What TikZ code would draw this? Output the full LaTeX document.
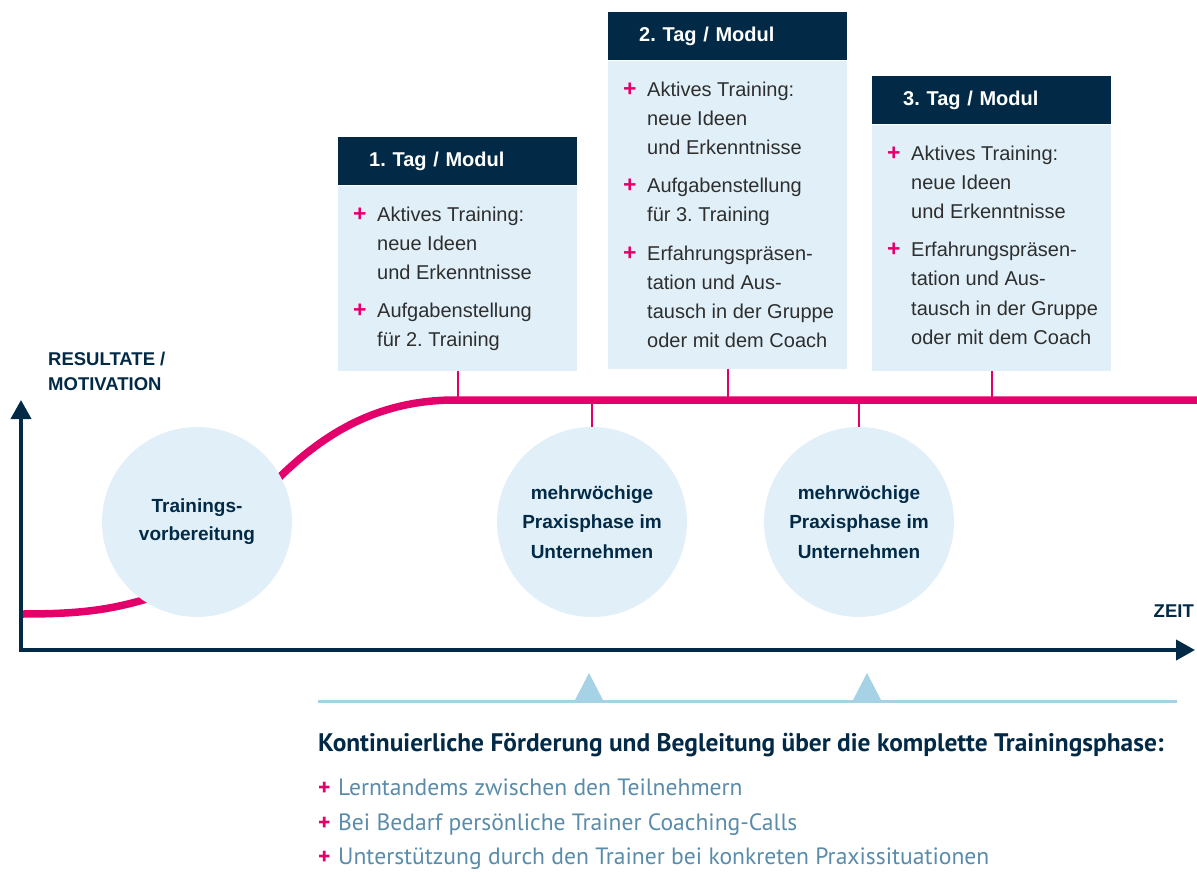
\documentclass[tikz,border=0pt]{standalone}
\usepackage{fontspec}
\setmainfont{Liberation Sans}
\newfontfamily\ptsans{PT Sans}
\usetikzlibrary{arrows.meta, positioning}

\definecolor{navy}{HTML}{022A46}
\definecolor{accent}{HTML}{E4006B}
\definecolor{paleblue}{HTML}{E1F0F8}
\definecolor{skyline}{HTML}{A6D2E5}
\definecolor{steel}{HTML}{5A8CAA}
\definecolor{bodytext}{HTML}{2E2E2E}

\newcommand{\plusitem}{\makebox[24pt][l]{\textcolor{accent}{\fontsize{23}{23}\selectfont\textbf{+}}}}
\newcommand{\indentline}{\hspace*{24pt}}
\newcommand{\supportitem}{\makebox[20pt][l]{\textcolor{accent}{\bfseries +}}}

\begin{document}
\frenchspacing
\begin{tikzpicture}[x=1pt, y=-1pt,
    % Define node styles
    dayhead/.style={
        fill=navy,
        text=white,
        font=\bfseries\fontsize{20}{24}\selectfont,
        anchor=north west,
        minimum width=239pt,
        minimum height=48pt,
        text width=177pt,
        inner xsep=31pt,
        align=left
    },
    daybody/.style={
        fill=paleblue,
        minimum width=239pt,
        inner sep=0pt
    },
    daytext/.style={
        anchor=north west,
        inner sep=0pt,
        align=left,
        text=bodytext,
        font=\fontsize{20}{29.2}\selectfont
    },
    phase/.style={
        circle,
        fill=paleblue,
        minimum size=190pt,
        inner sep=0pt,
        align=center,
        text=navy,
        font=\bfseries\fontsize{19}{29.5}\selectfont
    },
    axislabel/.style={
        text=navy,
        inner sep=0pt,
        align=left,
        font=\bfseries\fontsize{18.5}{25}\selectfont
    },
    axis/.style={draw=navy, line width=4pt, -{Triangle[length=19pt, width=20pt]}},
    curve/.style={draw=accent, line width=7.5pt},
    tick/.style={draw=accent, line width=2pt}
]
    \useasboundingbox (0,0) rectangle (1197,872);

    % Result curve
    \draw[curve] (22,614) .. controls (80,614) and (110,610) .. (150,598)
        .. controls (230,574) and (280,400) .. (455,400) -- (1197,400);
    \coordinate (plateau) at (455,400);

    % Axes
    \draw[axis] (21,652) -- (21,400);
    \draw[axis] (19,650) -- (1195,650);
    \node[axislabel, anchor=north west] (ylabel) at (48,352) {RESULTATE /\\MOTIVATION};
    \node[axislabel, anchor=base east] (xlabel) at (1194,617) {ZEIT};

    % Phases
    \node[phase] (prep) at (197,522) {Trainings-\\[-1.5pt]vorbereitung};
    \node[phase] (practice1) at (592,522) {mehrwöchige\\Praxisphase im\\Unternehmen};
    \node[phase] (practice2) at (859,522) {mehrwöchige\\Praxisphase im\\Unternehmen};

    % Day 1
    \node[dayhead] (head1) at (338,137) {1. Tag / Modul};
    \node[daybody, minimum height=185pt, below right=0pt and 0pt of head1.south west] (body1) {};
    \node[daytext] (text1) at ([shift={(15,21)}]body1.north west) {%
        \plusitem Aktives Training:\\
        \indentline neue Ideen\\
        \indentline und Erkenntnisse\\[9pt]
        \plusitem Aufgabenstellung\\
        \indentline für 2. Training};

    % Day 2
    \node[dayhead] (head2) at (608,12) {2. Tag / Modul};
    \node[daybody, minimum height=308pt, below right=0pt and 0pt of head2.south west] (body2) {};
    \node[daytext] (text2) at ([shift={(15,21)}]body2.north west) {%
        \plusitem Aktives Training:\\
        \indentline neue Ideen\\
        \indentline und Erkenntnisse\\[9pt]
        \plusitem Aufgabenstellung\\
        \indentline für 3. Training\\[9pt]
        \plusitem Erfahrungspräsen-\\
        \indentline tation und Aus-\\
        \indentline tausch in der Gruppe\\
        \indentline oder mit dem Coach};

    % Day 3
    \node[dayhead] (head3) at (872,76) {3. Tag / Modul};
    \node[daybody, minimum height=246pt, below right=0pt and 0pt of head3.south west] (body3) {};
    \node[daytext] (text3) at ([shift={(15,21)}]body3.north west) {%
        \plusitem Aktives Training:\\
        \indentline neue Ideen\\
        \indentline und Erkenntnisse\\[9pt]
        \plusitem Erfahrungspräsen-\\
        \indentline tation und Aus-\\
        \indentline tausch in der Gruppe\\
        \indentline oder mit dem Coach};

    % Ticks to the curve
    \foreach \b in {body1, body2, body3}
        \draw[tick] (\b.south) -- (\b.south |- plateau);
    \foreach \p in {practice1, practice2}
        \draw[tick] (\p.north) -- (\p.north |- plateau);

    % Support line
    \draw[draw=skyline, line width=3pt] (318,701) -- (1177,701);
    \foreach \tx in {589, 867}
        \fill[skyline] (\tx-15,702) -- (\tx,673) -- (\tx+15,702) -- cycle;

    \node[anchor=west, inner sep=0pt, text=navy, font=\ptsans\bfseries\fontsize{25.4}{28}\selectfont]
        (support) at (318,745) {Kontinuierliche Förderung und Begleitung über die komplette Trainingsphase:};
    \node[anchor=north west, inner sep=0pt, align=left, text=steel, font=\ptsans\fontsize{23.6}{34.3}\selectfont]
        (supportlist) at (318,779) {%
        \supportitem Lerntandems zwischen den Teilnehmern\\
        \supportitem Bei Bedarf persönliche Trainer Coaching-Calls\\
        \supportitem Unterstützung durch den Trainer bei konkreten Praxissituationen};
\end{tikzpicture}
\end{document}
